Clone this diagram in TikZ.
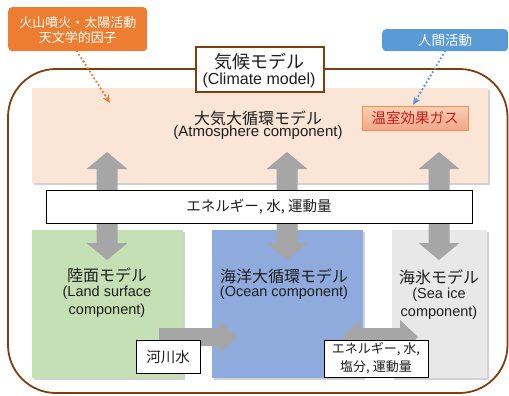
\documentclass[tikz,border=0pt]{standalone}
\usepackage{fontspec}
\setmainfont{Liberation Sans}
\newfontfamily\cjk{Noto Sans CJK JP}
\usetikzlibrary{arrows.meta,shadows}
\definecolor{orangeA}{HTML}{ED7D31}
\definecolor{blueA}{HTML}{5B9BD5}
\definecolor{brownA}{HTML}{843C0C}
\definecolor{peach}{HTML}{FBE5D6}
\definecolor{ghgtop}{HTML}{F9D0B6}
\definecolor{ghgbot}{HTML}{F4A688}
\definecolor{ghgtext}{HTML}{C81E1E}
\definecolor{greenA}{HTML}{C5E0B4}
\definecolor{oceanA}{HTML}{8FAADC}
\definecolor{iceA}{HTML}{E8E8E8}
\definecolor{arrowgray}{HTML}{A6A6A6}
\definecolor{txt}{HTML}{1E1E1E}
\begin{document}
\begin{tikzpicture}[x=1pt,y=-1pt,
  softshadow/.style={drop shadow={shadow xshift=1.5pt, shadow yshift=-1.5pt, opacity=0.18, fill=black}},
  region/.style={draw=none, inner sep=0pt, anchor=north west, softshadow},
  whitebox/.style={draw=black, line width=1pt, fill=white, inner sep=0pt, anchor=north west},
  lbl/.style={align=center, text=txt, inner sep=0pt},
  flag/.style={rounded corners=4pt, inner sep=0pt, anchor=north west, text=white, align=center},
  dotarrow/.style={line width=2.6pt, line cap=round, dash pattern=on 0pt off 4pt, -{Stealth[length=8pt,width=7pt]}}]
\useasboundingbox (0,0) rectangle (509,396);

% outer frame
\draw[brownA, line width=1.8pt, rounded corners=48pt] (8,69) rectangle (507.5,393);

% component regions
\node[region, fill=peach, minimum width=456pt, minimum height=95pt] (atm) at (32,88) {};
\node[region, fill=greenA, minimum width=151pt, minimum height=148pt] (land) at (32,230) {};
\node[region, fill=oceanA, minimum width=151pt, minimum height=148pt] (ocean) at (212,230) {};
\node[region, fill=iceA, minimum width=95pt, minimum height=148pt] (ice) at (392,230) {};

% greenhouse gas box
\node[draw=orangeA!85, line width=1pt, top color=ghgtop, bottom color=ghgbot, text=ghgtext,
      font=\cjk\fontsize{14.5}{16}\selectfont,
      minimum width=106pt, minimum height=24pt, inner sep=0pt] (ghg) at (415,118) {温室効果ガス};

% gray vertical double arrows
\foreach \x/\n in {107/a1, 287/a2, 439/a3} {
  \coordinate (\n t) at (\x,152);
  \coordinate (\n b) at (\x,260);
  \fill[arrowgray] (\n t) -- ++(20.5,17) -- ++(-10,0) -- ({\x+10.5},243) -- ++(10,0)
     -- (\n b) -- ({\x-20.5},243) -- ++(10,0) -- ({\x-10.5},169) -- ++(-10,0) -- cycle;
}

% river water arrow (land -> ocean)
\coordinate (rs) at (159,337);
\coordinate (re) at (237,337);
\fill[arrowgray] (159,328) -- (219,328) -- (219,320) -- (re) -- (219,354) -- (219,346) -- (159,346) -- cycle;

% ocean <-> sea ice arrow
\coordinate (ol) at (342,337);
\coordinate (or) at (418,337);
\fill[arrowgray] (ol) -- (360,320) -- (360,328) -- (400,328) -- (400,320) -- (or)
   -- (400,354) -- (400,346) -- (360,346) -- (360,354) -- cycle;

% energy bar
\node[whitebox, minimum width=426pt, minimum height=33pt] (bar) at (46,190) {};
\node[lbl, font=\cjk\fontsize{14.5}{16}\selectfont] (bart) at (259,207) {エネルギー, 水, 運動量};

% small labels
\node[whitebox, minimum width=64pt, minimum height=33pt] (river) at (136,340) {};
\node[lbl, font=\cjk\fontsize{14.5}{16}\selectfont] (rivert) at (168,357) {河川水};
\node[whitebox, minimum width=104pt, minimum height=37pt] (exch) at (324,340) {};
\node[lbl, font=\cjk\fontsize{13}{18}\selectfont] (excht) at (376,358.5) {エネルギー, 水,\\塩分, 運動量};

% component texts
\node[lbl, font=\cjk\fontsize{16}{16}\selectfont] (atmj) at (258,118) {大気大循環モデル};
\node[lbl, font=\fontsize{15}{16}\selectfont] (atme) at (258,133) {(Atmosphere component)};

\node[lbl, font=\cjk\fontsize{16}{16}\selectfont] (landj) at (107,275) {陸面モデル};
\node[lbl, font=\fontsize{14.5}{18}\selectfont] (lande) at (107,302) {(Land surface\\component)};

\node[lbl, font=\cjk\fontsize{16}{16}\selectfont] (oceanj) at (284,276) {海洋大循環モデル};
\node[lbl, font=\fontsize{14.5}{18}\selectfont] (oceane) at (284,293) {(Ocean component)};

\node[lbl, font=\cjk\fontsize{16}{16}\selectfont] (icej) at (439,277) {海氷モデル};
\node[lbl, font=\fontsize{14.5}{18}\selectfont] (icee) at (439,303.5) {(Sea ice\\component)};

% title box
\node[draw=brownA, line width=1.8pt, fill=white, inner sep=0pt, anchor=north west,
      minimum width=128pt, minimum height=45pt] (title) at (195,46) {};
\node[lbl, font=\cjk\fontsize{18}{18}\selectfont] (titlej) at (259,62) {気候モデル};
\node[lbl, font=\fontsize{16}{16}\selectfont] (titlee) at (259,80) {(Climate model)};

% external forcing boxes
\node[flag, fill=orangeA, minimum width=139pt, minimum height=44pt] (volc) at (8,7) {};
\node[lbl, text=white, font=\cjk\fontsize{13}{14.5}\selectfont] (volct) at (78,30) {火山噴火・太陽活動\\天文学的因子};
\node[flag, fill=blueA, minimum width=126pt, minimum height=22pt] (human) at (382,29) {};
\node[lbl, text=white, font=\cjk\fontsize{13.5}{15}\selectfont] (humant) at (445,40) {人間活動};

% dotted arrows
\coordinate (vt) at (110,103);
\coordinate (ht) at (413,105);
\draw[orangeA, dotarrow] (volc.south -| 77,0) -- (vt);
\draw[blueA, dotarrow] (human.south -| 445,0) -- (ht);
\end{tikzpicture}
\end{document}
